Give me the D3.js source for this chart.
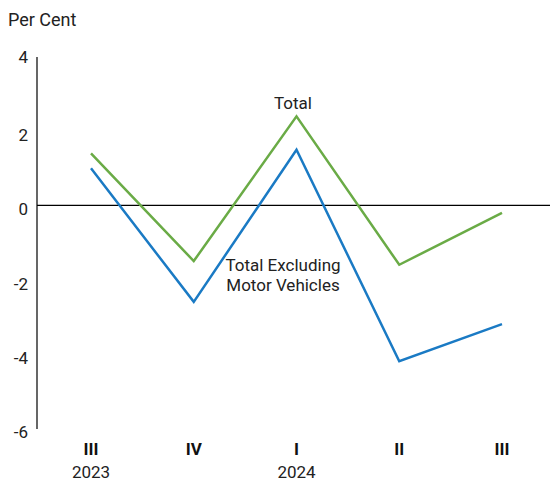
<!DOCTYPE html>
<html>
<head>
<meta charset="utf-8">
<script src="https://cdn.jsdelivr.net/npm/d3@7.9.0/dist/d3.min.js"></script>
<style>
  body { margin: 0; background: #fff; }
  svg { font-family: Roboto, "Open Sans", sans-serif; }
</style>
</head>
<body>
<svg id="chart" width="550" height="481"></svg>
<script>
// quarters and years
const quarters = ['III', 'IV', 'I', 'II', 'III '];
const years = ['2023', '', '2024', '', ''];

// values (per cent)
const total = [1.4, -1.5, 2.4, -1.6, -0.2];
const totalExMotor = [1.0, -2.6, 1.5, -4.2, -3.2];

const yTicks = [4, 2, 0, -2, -4, -6];

const svg = d3.select('#chart');

const x = d3.scalePoint().domain(quarters).range([91, 502]);
const y = d3.scaleLinear().domain([-6, 4]).range([428, 57]);

// y axis line
svg.append('line')
  .attr('x1', 37).attr('x2', 37)
  .attr('y1', y(4)).attr('y2', y(-6) + 1)
  .attr('stroke', '#000').attr('stroke-width', 1.2);

// zero line
svg.append('line')
  .attr('x1', 37).attr('x2', 550)
  .attr('y1', y(0)).attr('y2', y(0))
  .attr('stroke', '#000').attr('stroke-width', 1.2);

// tick labels
svg.selectAll('.ytick')
  .data(yTicks)
  .enter().append('text')
  .attr('x', 28)
  .attr('y', d => y(d) + (d === 4 ? 0 : 4))
  .attr('dy', '0.35em')
  .attr('text-anchor', 'end')
  .attr('font-size', 17)
  .attr('fill', '#222')
  .text(d => d);

svg.append('text')
  .attr('x', 8).attr('y', 26)
  .attr('font-size', 18)
  .attr('fill', '#222')
  .text('Per Cent');

// x labels
svg.selectAll('.q')
  .data(quarters)
  .enter().append('text')
  .attr('x', d => x(d))
  .attr('y', 455)
  .attr('text-anchor', 'middle')
  .attr('font-size', 17)
  .attr('font-weight', 'bold')
  .attr('fill', '#111')
  .text(d => d.trim());

svg.selectAll('.yr')
  .data(years)
  .enter().append('text')
  .attr('x', (d, i) => x(quarters[i]))
  .attr('y', 478)
  .attr('text-anchor', 'middle')
  .attr('font-size', 17)
  .attr('fill', '#222')
  .text(d => d);

const line = d3.line()
  .x((d, i) => x(quarters[i]))
  .y(d => y(d));

svg.append('path')
  .datum(total)
  .attr('d', line)
  .attr('fill', 'none')
  .attr('stroke', '#6aab46')
  .attr('stroke-width', 2.5);

svg.append('path')
  .datum(totalExMotor)
  .attr('d', line)
  .attr('fill', 'none')
  .attr('stroke', '#1a7ac4')
  .attr('stroke-width', 2.5);

// annotations
svg.append('text')
  .attr('x', 293).attr('y', 109)
  .attr('text-anchor', 'middle')
  .attr('font-size', 17)
  .attr('fill', '#222')
  .text('Total');

svg.append('text')
  .attr('x', 283).attr('y', 271)
  .attr('text-anchor', 'middle')
  .attr('font-size', 17)
  .attr('fill', '#222')
  .text('Total Excluding');

svg.append('text')
  .attr('x', 283).attr('y', 291)
  .attr('text-anchor', 'middle')
  .attr('font-size', 17)
  .attr('fill', '#222')
  .text('Motor Vehicles');
</script>
</body>
</html>
